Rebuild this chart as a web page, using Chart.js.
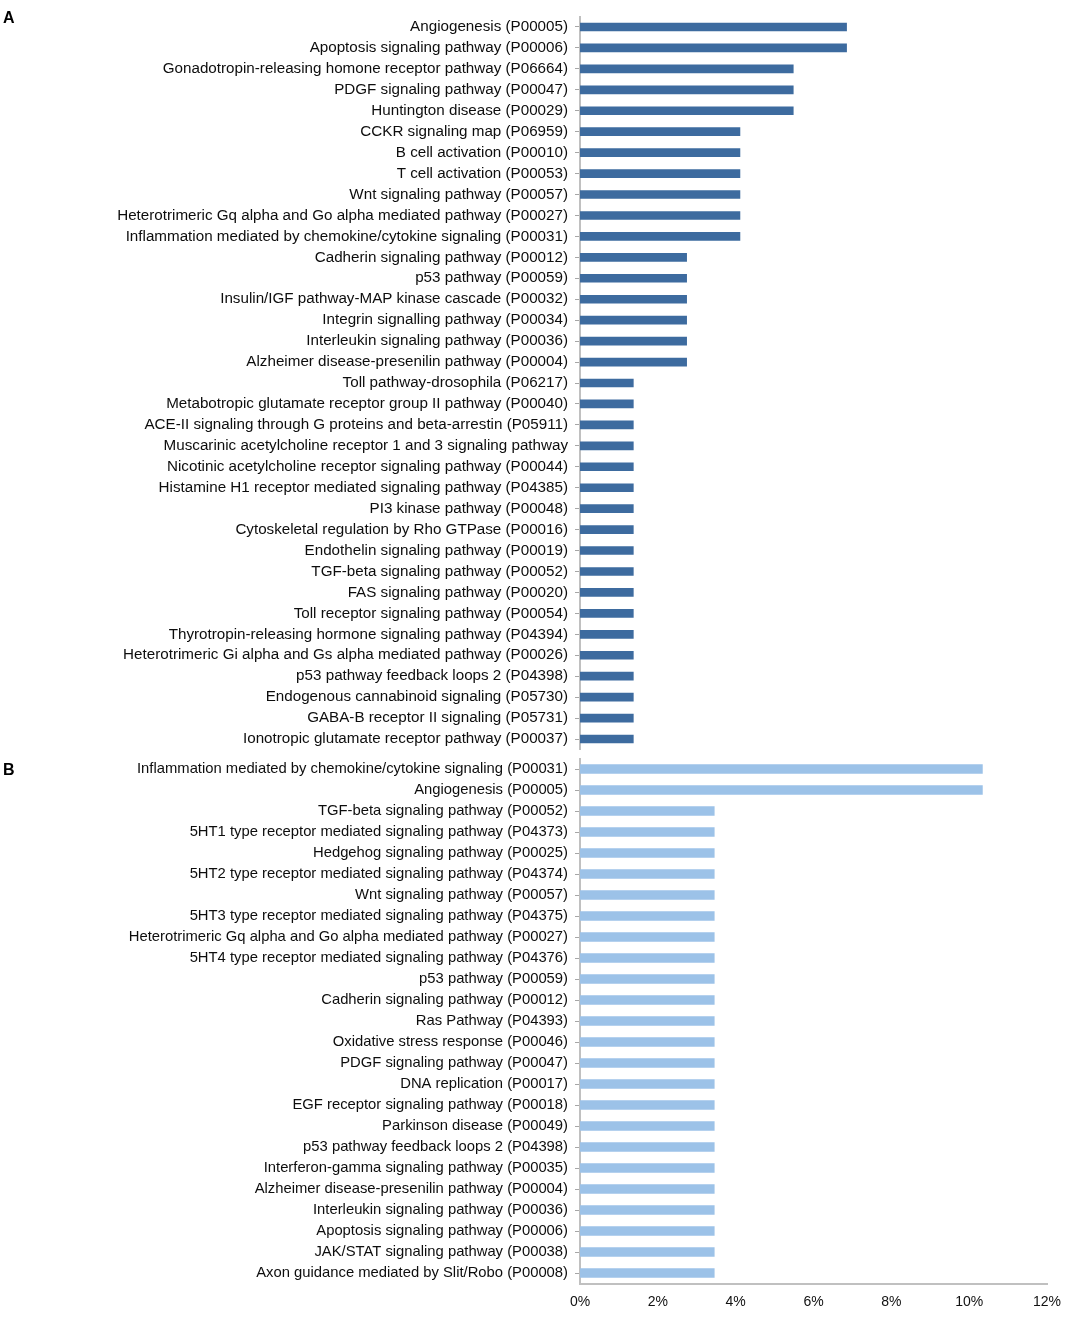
<!DOCTYPE html>
<html>
<head>
<meta charset="utf-8">
<script src="https://cdn.jsdelivr.net/npm/chart.js@4.4.1/dist/chart.umd.min.js"></script>
<style>
  html, body { margin: 0; padding: 0; background: #fff; overflow: hidden; }
  #wrap { position: relative; width: 1084px; height: 1326px; overflow: hidden; }
  canvas { position: absolute; left: 0; }
  .panel { position: absolute; left: 3px; font: bold 16px "Liberation Sans", Arial, sans-serif; color: #000; }
</style>
</head>
<body>
<div id="wrap">
  <canvas id="chartA" width="1084" height="769" style="top:-2px"></canvas>
  <canvas id="chartB" width="1084" height="586" style="top:740px"></canvas>
  <div class="panel" style="top:9px">A</div>
  <div class="panel" style="top:761px">B</div>
</div>
<script>
const labelsA = [
  'Angiogenesis (P00005)',
  'Apoptosis signaling pathway (P00006)',
  'Gonadotropin-releasing homone receptor pathway (P06664)',
  'PDGF signaling pathway (P00047)',
  'Huntington disease (P00029)',
  'CCKR signaling map (P06959)',
  'B cell activation (P00010)',
  'T cell activation (P00053)',
  'Wnt signaling pathway (P00057)',
  'Heterotrimeric Gq alpha and Go alpha mediated pathway (P00027)',
  'Inflammation mediated by chemokine/cytokine signaling (P00031)',
  'Cadherin signaling pathway (P00012)',
  'p53 pathway (P00059)',
  'Insulin/IGF pathway-MAP kinase cascade (P00032)',
  'Integrin signalling pathway (P00034)',
  'Interleukin signaling pathway (P00036)',
  'Alzheimer disease-presenilin pathway (P00004)',
  'Toll pathway-drosophila (P06217)',
  'Metabotropic glutamate receptor group II pathway (P00040)',
  'ACE-II signaling through G proteins and beta-arrestin (P05911)',
  'Muscarinic acetylcholine receptor 1 and 3 signaling pathway',
  'Nicotinic acetylcholine receptor signaling pathway (P00044)',
  'Histamine H1 receptor mediated signaling pathway (P04385)',
  'PI3 kinase pathway (P00048)',
  'Cytoskeletal regulation by Rho GTPase (P00016)',
  'Endothelin signaling pathway (P00019)',
  'TGF-beta signaling pathway (P00052)',
  'FAS signaling pathway (P00020)',
  'Toll receptor signaling pathway (P00054)',
  'Thyrotropin-releasing hormone signaling pathway (P04394)',
  'Heterotrimeric Gi alpha and Gs alpha mediated pathway (P00026)',
  'p53 pathway feedback loops 2 (P04398)',
  'Endogenous cannabinoid signaling (P05730)',
  'GABA-B receptor II signaling (P05731)',
  'Ionotropic glutamate receptor pathway (P00037)'
];
const valuesA = [
  6.85, 6.85, 5.48, 5.48, 5.48,
  4.11, 4.11, 4.11, 4.11, 4.11, 4.11,
  2.74, 2.74, 2.74, 2.74, 2.74, 2.74,
  1.37, 1.37, 1.37, 1.37, 1.37, 1.37, 1.37, 1.37, 1.37,
  1.37, 1.37, 1.37, 1.37, 1.37, 1.37, 1.37, 1.37, 1.37
];

const labelsB = [
  'Inflammation mediated by chemokine/cytokine signaling (P00031)',
  'Angiogenesis (P00005)',
  'TGF-beta signaling pathway (P00052)',
  '5HT1 type receptor mediated signaling pathway (P04373)',
  'Hedgehog signaling pathway (P00025)',
  '5HT2 type receptor mediated signaling pathway (P04374)',
  'Wnt signaling pathway (P00057)',
  '5HT3 type receptor mediated signaling pathway (P04375)',
  'Heterotrimeric Gq alpha and Go alpha mediated pathway (P00027)',
  '5HT4 type receptor mediated signaling pathway (P04376)',
  'p53 pathway (P00059)',
  'Cadherin signaling pathway (P00012)',
  'Ras Pathway (P04393)',
  'Oxidative stress response (P00046)',
  'PDGF signaling pathway (P00047)',
  'DNA replication (P00017)',
  'EGF receptor signaling pathway (P00018)',
  'Parkinson disease (P00049)',
  'p53 pathway feedback loops 2 (P04398)',
  'Interferon-gamma signaling pathway (P00035)',
  'Alzheimer disease-presenilin pathway (P00004)',
  'Interleukin signaling pathway (P00036)',
  'Apoptosis signaling pathway (P00006)',
  'JAK/STAT signaling pathway (P00038)',
  'Axon guidance mediated by Slit/Robo (P00008)'
];
const valuesB = [
  10.34, 10.34,
  3.45, 3.45, 3.45, 3.45, 3.45, 3.45, 3.45, 3.45, 3.45, 3.45, 3.45,
  3.45, 3.45, 3.45, 3.45, 3.45, 3.45, 3.45, 3.45, 3.45, 3.45, 3.45, 3.45
];

const xTicks = [0, 2, 4, 6, 8, 10, 12];

const FONT = '"Liberation Sans", Arial, sans-serif';
const AXIS_GREY = '#c0c0c0';

// the label padding of the y axis is ~16px, so keep layout padding above that
function makeConfig(labels, values, color, thickness, labelSize, showX, padding) {
  return {
    type: 'bar',
    data: {
      labels: labels,
      datasets: [{
        data: values,
        backgroundColor: color,
        borderWidth: 0,
        barThickness: thickness
      }]
    },
    options: {
      indexAxis: 'y',
      responsive: false,
      animation: false,
      layout: { padding: padding },
      plugins: { legend: { display: false }, tooltip: { enabled: false } },
      scales: {
        x: {
          display: showX,
          min: 0,
          max: 12,
          afterBuildTicks: s => { s.ticks = xTicks.map(v => ({ value: v })); },
          afterFit: s => { if (showX) s.height = 42.5; },
          grid: { display: false, drawTicks: false },
          border: { display: true, color: AXIS_GREY, width: 2 },
          ticks: {
            padding: 10,
            color: '#111',
            font: { family: FONT, size: 14 },
            callback: v => v + '%'
          }
        },
        y: {
          afterFit: s => { s.width = 580; },
          grid: {
            offset: false,
            drawOnChartArea: false,
            drawTicks: true,
            tickLength: 5,
            color: '#a6a6a6',
            lineWidth: 1
          },
          border: { display: true, color: AXIS_GREY, width: 2 },
          ticks: {
            padding: 7,
            autoSkip: false,
            color: '#0d0d0d',
            font: { family: FONT, size: labelSize }
          }
        }
      }
    }
  };
}

new Chart(document.getElementById('chartA'),
  makeConfig(labelsA, valuesA, '#3d6b9f', 8, 15.2, false, { top: 18.5, bottom: 17.5, left: 0, right: 37 }));
new Chart(document.getElementById('chartB'),
  makeConfig(labelsB, valuesB, '#9cc2e8', 9, 14.8, true, { top: 18.5, bottom: 0, left: 0, right: 37 }));
</script>
</body>
</html>
